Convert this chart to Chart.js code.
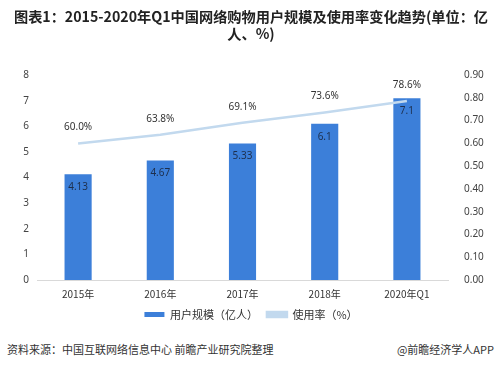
<!DOCTYPE html>
<html><head><meta charset="utf-8">
<script src="https://cdn.jsdelivr.net/npm/chart.js@4"></script>
<style>
html,body{margin:0;padding:0;background:#fff;}
#wrap{position:relative;width:500px;height:367px;}
#c{position:absolute;left:0;top:0;}
.foot{position:absolute;top:341px;font:11px "Noto Sans CJK SC",sans-serif;color:#333;}
</style></head><body>
<div id="wrap">
<canvas id="c" width="500" height="330"></canvas>
<div class="foot" style="left:7px">资料来源：中国互联网络信息中心 前瞻产业研究院整理</div>
<div class="foot" style="right:6px">@前瞻经济学人APP</div>
</div>
<script>
const categories = ["2015年","2016年","2017年","2018年","2020年Q1"];
const users = [4.13, 4.67, 5.33, 6.1, 7.1];
const rate = [0.600, 0.638, 0.691, 0.736, 0.786];
const rateLabels = ["60.0%","63.8%","69.1%","73.6%","78.6%"];
const userLabels = ["4.13","4.67","5.33","6.1","7.1"];
const titleLines = ["图表1：2015-2020年Q1中国网络购物用户规模及使用率变化趋势(单位：亿","人、%)"];

const labelPlugin = {
  id:'labels',
  afterDatasetsDraw(chart){
    const ctx = chart.ctx;
    ctx.save();
    ctx.font = '10px "Noto Sans", "DejaVu Sans", sans-serif';
    ctx.textAlign = 'center';
    ctx.textBaseline = 'middle';
    const bars = chart.getDatasetMeta(0).data;
    bars.forEach((b,i)=>{ ctx.fillStyle='#1d2f4d'; ctx.fillText(userLabels[i], b.x, b.y+13); });
    const pts = chart.getDatasetMeta(1).data;
    pts.forEach((p,i)=>{ ctx.fillStyle='#333'; ctx.fillText(rateLabels[i], p.x, p.y-16); });
    ctx.restore();
  }
};

new Chart(document.getElementById('c'), {
  data:{
    labels: categories,
    datasets:[
      {type:'bar', label:'用户规模（亿人）', data:users, backgroundColor:'#3c7fd9', yAxisID:'y', order:2, barPercentage:0.66, categoryPercentage:0.5},
      {type:'line', label:'使用率（%）', data:rate, borderColor:'#c2d9ee', backgroundColor:'#c2d9ee', borderWidth:2.5, pointRadius:0, tension:0, yAxisID:'y1', order:1}
    ]
  },
  options:{
    responsive:false, animation:false,
    layout:{padding:{top:0,left:12,right:10,bottom:0}},
    plugins:{
      title:{display:true, text:titleLines, color:'#222', font:{family:'"Noto Sans CJK SC", sans-serif', size:14.2, weight:'bold', lineHeight:1.2}, padding:{top:8,bottom:33}},
      legend:{position:'bottom', labels:{boxWidth:20, boxHeight:5, color:'#333', font:{family:'"Noto Sans CJK SC", sans-serif', size:11}, padding:9, sort:(a,b)=>a.datasetIndex-b.datasetIndex}},
      tooltip:{enabled:false}
    },
    scales:{
      x:{grid:{display:false}, border:{display:true,color:'#d9d9d9'}, ticks:{color:'#333', font:{family:'"Noto Sans CJK SC", sans-serif', size:10}, padding:0}},
      y:{position:'left', min:0, max:8, grid:{display:false}, border:{display:false}, ticks:{stepSize:1, color:'#444', font:{size:10, family:'"Noto Sans", sans-serif'}, padding:0}, afterFit(s){s.width=25;}},
      y1:{position:'right', min:0, max:0.9, grid:{display:false}, border:{display:false}, ticks:{stepSize:0.1, color:'#444', font:{size:10, family:'"Noto Sans", sans-serif'}, padding:8, callback:v=>v.toFixed(2)}, afterFit(s){s.width=42;}}
    }
  },
  plugins:[labelPlugin]
});
</script>
</body></html>
